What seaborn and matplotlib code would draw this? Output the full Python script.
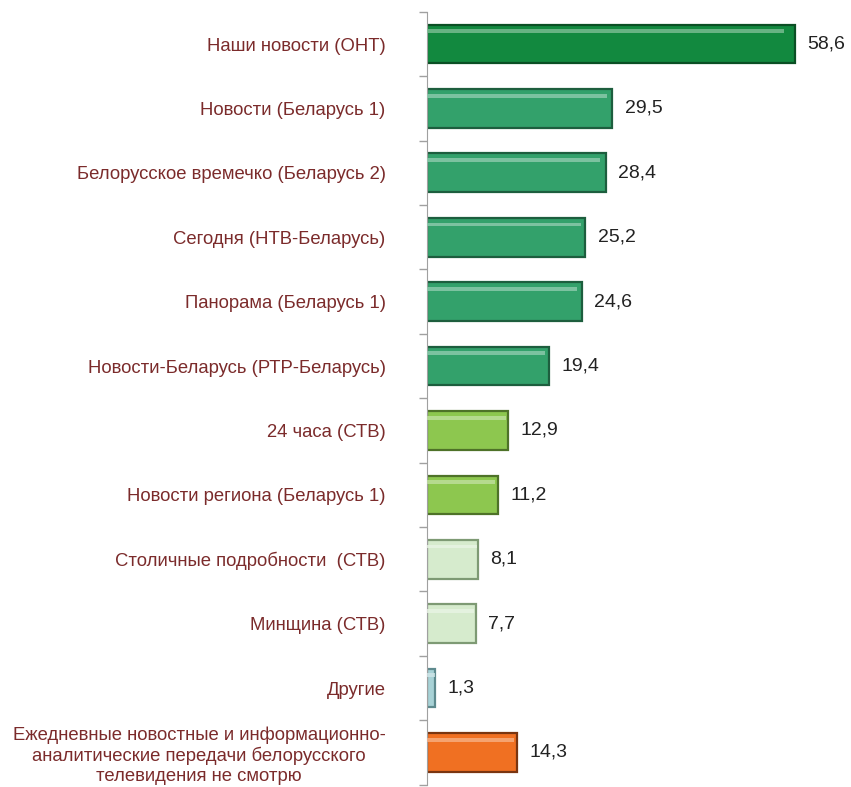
import matplotlib
matplotlib.use("Agg")
import matplotlib.pyplot as plt
import matplotlib.colors as mcolors
from matplotlib.patches import Rectangle
import seaborn as sns
import pandas as pd
import numpy as np

# Data
programs = [
    "Наши новости (ОНТ)",
    "Новости (Беларусь 1)",
    "Белорусское времечко (Беларусь 2)",
    "Сегодня (НТВ-Беларусь)",
    "Панорама (Беларусь 1)",
    "Новости-Беларусь (РТР-Беларусь)",
    "24 часа (СТВ)",
    "Новости региона (Беларусь 1)",
    "Столичные подробности  (СТВ)",
    "Минщина (СТВ)",
    "Другие",
    "Ежедневные новостные и информационно-\nаналитические передачи белорусского\nтелевидения не смотрю",
]
shares = [58.6, 29.5, 28.4, 25.2, 24.6, 19.4, 12.9, 11.2, 8.1, 7.7, 1.3, 14.3]
bar_colors = ["#12893F", "#33A16B", "#33A16B", "#33A16B", "#33A16B", "#33A16B",
              "#8DC74F", "#8DC74F", "#D6EBCD", "#D6EBCD", "#A8D2D6", "#F07022"]
edge_colors = ["#0B4F24", "#1D5E3E", "#1D5E3E", "#1D5E3E", "#1D5E3E", "#1D5E3E",
               "#4E7228", "#4E7228", "#7E9A74", "#7E9A74", "#5E8A8E", "#7A3510"]

df = pd.DataFrame({"program": programs, "share": shares})

sns.set_style("white")
plt.rcParams['font.family'] = ['Liberation Sans', 'DejaVu Sans']

fig = plt.figure(figsize=(8.51, 7.87), dpi=100)
ax = fig.add_axes([0.502, 0.003, 0.498, 0.982])

sns.barplot(data=df, x="share", y="program", hue="program", palette=bar_colors,
            orient="h", width=0.6, legend=False, ax=ax, saturation=1)

bars = list(ax.patches)
for patch, fc, ec in zip(bars, bar_colors, edge_colors):
    patch.set_edgecolor(ec)
    patch.set_linewidth(1.6)
    # light bevel highlight along the top of each bar
    x0, y0 = patch.get_x(), patch.get_y()
    w, h = patch.get_width(), patch.get_height()
    light = mcolors.to_rgb(fc)
    light = tuple(c + (1 - c) * 0.45 for c in light)
    ax.add_patch(Rectangle((x0 + w * 0.0, y0 + h * 0.12), w * 0.97, h * 0.1,
                           facecolor=light, edgecolor="none", alpha=0.8, zorder=3))

for i, v in enumerate(shares):
    ax.text(v + 2.0, i, f"{v:.1f}".replace(".", ","), va="center", ha="left",
            fontsize=14, color="#222222")

ax.set_xlim(0, 67.5)
ax.set_ylim(len(programs) - 0.5, -0.5)
ax.set_xlabel("")
ax.set_ylabel("")
ax.set_xticks([])

ax.tick_params(axis="y", which="major", left=False, length=0, pad=30,
               labelsize=13.3, labelcolor="#7B2B2B")
for lbl in ax.get_yticklabels():
    lbl.set_multialignment("center")
ax.set_yticks(np.arange(-0.5, len(programs), 1), minor=True)
ax.tick_params(axis="y", which="minor", left=True, length=6, color="#A0A0A0",
               width=1, direction="out")

for s in ["top", "right", "bottom"]:
    ax.spines[s].set_visible(False)
ax.spines["left"].set_color("#A0A0A0")

fig.savefig("out.png", dpi=100)
